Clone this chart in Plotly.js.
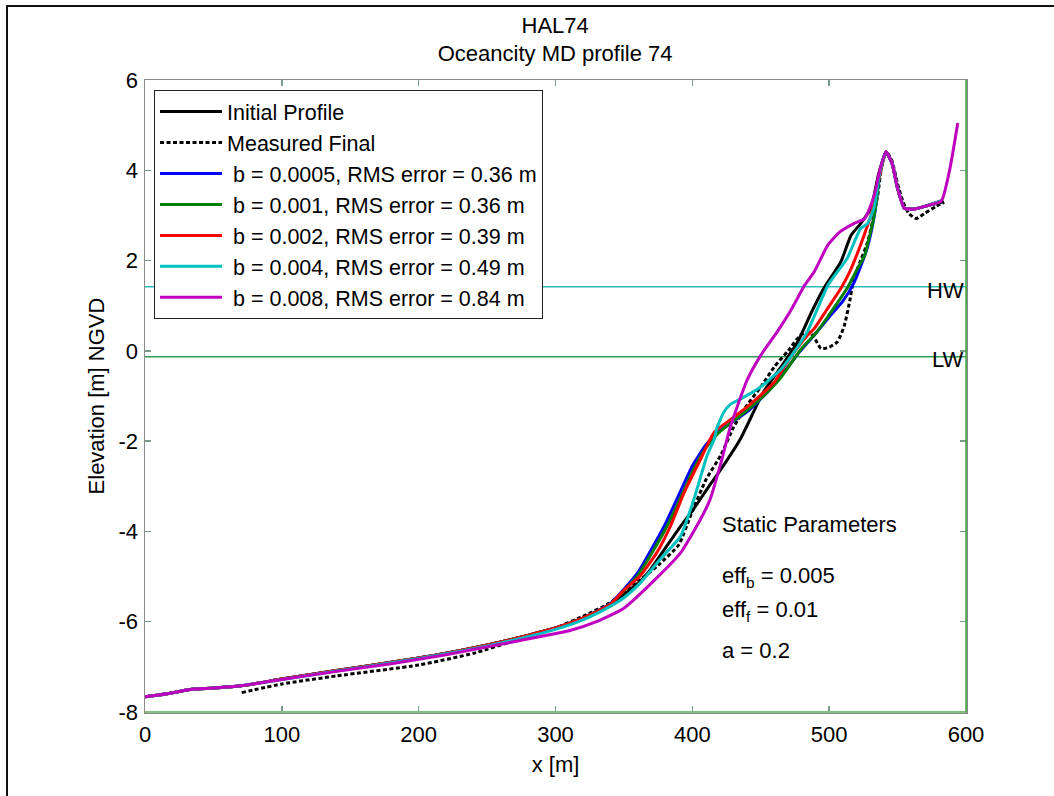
<!DOCTYPE html>
<html>
<head>
<meta charset="utf-8">
<script src="https://cdn.plot.ly/plotly-3.0.1.min.js"></script>
<style>
  html, body { margin: 0; padding: 0; background: #fff; overflow: hidden; }
  #chart { width: 1054px; height: 796px; }
  #frame { position: absolute; left: 6px; top: 5px; width: 1200px; height: 900px;
           border-left: 2px solid #111; border-top: 2px solid #111; pointer-events: none; }
</style>
</head>
<body>
<div id="chart"></div>
<div id="frame"></div>
<script>
// Profile HAL74, Ocean City MD: cross-shore distance x [m] vs elevation [m NGVD]

const initialX = [0, 15, 33, 50, 70, 100, 140, 180, 220, 260, 300, 320, 340, 362, 369.5, 380, 391.5, 401, 411, 421, 435, 452, 465, 477, 487, 496, 508.5, 516, 523, 530.5, 536, 541.5, 546, 550, 555, 562, 572, 584];
const initialY = [-7.66, -7.6, -7.5, -7.47, -7.42, -7.27, -7.08, -6.9, -6.7, -6.45, -6.14, -5.92, -5.62, -5.1, -4.84, -4.38, -3.88, -3.5, -3.05, -2.62, -1.96, -0.91, -0.35, 0.2, 0.85, 1.38, 1.97, 2.56, 2.82, 3.16, 3.9, 4.41, 4.15, 3.6, 3.16, 3.14, 3.22, 3.3];

const measuredX = [70.7, 100, 140, 200, 240, 270, 300, 320, 340, 362, 375, 390, 400, 410, 421, 430, 440, 450, 460, 470, 479, 485, 489, 494, 500, 506, 511, 515, 518, 523, 528, 532, 535.5, 539, 542, 546, 550, 554, 558, 563.5, 570, 578, 584];
const measuredY = [-7.57, -7.38, -7.2, -6.96, -6.7, -6.42, -6.14, -5.88, -5.58, -5.07, -4.75, -4.3, -3.55, -2.85, -2.3, -1.7, -1.2, -0.8, -0.35, 0.0, 0.35, 0.42, 0.3, 0.05, 0.08, 0.2, 0.55, 1.1, 1.6, 2.0, 2.4, 2.9, 3.45, 4.2, 4.4, 4.2, 3.7, 3.3, 3.05, 2.93, 3.05, 3.2, 3.29];

const b0005X = [0, 15, 33, 50, 70, 100, 140, 180, 220, 260, 300, 320, 340, 360, 370, 380, 390, 400, 410, 418, 428, 440, 455, 465, 479, 490, 500, 510, 518, 524, 528, 533, 537, 541.5, 546, 550, 555, 562, 572, 582];
const b0005Y = [-7.66, -7.6, -7.5, -7.47, -7.42, -7.27, -7.08, -6.9, -6.7, -6.45, -6.14, -5.92, -5.6, -4.92, -4.4, -3.85, -3.2, -2.55, -2.08, -1.82, -1.6, -1.35, -0.91, -0.55, 0.0, 0.38, 0.75, 1.1, 1.5, 1.95, 2.3, 3.0, 3.9, 4.41, 4.15, 3.6, 3.16, 3.14, 3.22, 3.32];

const b001X = [0, 15, 33, 50, 70, 100, 140, 180, 220, 260, 300, 320, 340, 360, 370, 380, 390, 400, 410, 418, 428, 440, 455, 465, 479, 491, 500, 513, 520, 526, 530, 533, 537, 541.5, 546, 550, 555, 562, 572, 582];
const b001Y = [-7.66, -7.6, -7.5, -7.47, -7.42, -7.27, -7.08, -6.9, -6.7, -6.45, -6.14, -5.92, -5.61, -4.98, -4.5, -3.97, -3.35, -2.68, -2.15, -1.85, -1.6, -1.32, -0.91, -0.58, 0.02, 0.42, 0.8, 1.38, 1.78, 2.12, 2.6, 3.0, 3.9, 4.41, 4.15, 3.6, 3.16, 3.14, 3.22, 3.32];

const b002X = [0, 15, 33, 50, 70, 100, 140, 180, 220, 260, 300, 320, 340, 350, 362, 374, 384, 394, 406, 416, 428, 440, 460, 470, 484, 489, 498, 508.5, 515, 521, 526, 530.5, 537, 541.5, 546, 550, 555, 562, 572, 582];
const b002Y = [-7.66, -7.6, -7.5, -7.47, -7.42, -7.27, -7.08, -6.9, -6.7, -6.45, -6.14, -5.92, -5.62, -5.3, -4.98, -4.47, -3.88, -3.14, -2.4, -1.8, -1.52, -1.24, -0.69, -0.22, 0.34, 0.49, 0.9, 1.38, 1.75, 2.19, 2.6, 3.0, 3.9, 4.41, 4.15, 3.6, 3.16, 3.14, 3.22, 3.32];

const b004X = [0, 15, 33, 50, 70, 100, 140, 180, 220, 260, 300, 320, 340, 350, 362, 377, 391.5, 401, 411, 416, 418, 423, 428, 435, 450, 457, 465, 475, 484, 499, 506, 513, 523, 528, 533, 537, 541.5, 546, 550, 555, 562, 572, 582];
const b004Y = [-7.66, -7.6, -7.5, -7.47, -7.42, -7.28, -7.09, -6.91, -6.71, -6.47, -6.17, -5.96, -5.66, -5.47, -5.14, -4.6, -4.1, -3.3, -2.3, -1.96, -1.7, -1.36, -1.18, -1.07, -0.8, -0.62, -0.4, 0.0, 0.42, 1.45, 1.75, 2.04, 2.71, 2.82, 3.2, 3.95, 4.41, 4.15, 3.6, 3.16, 3.14, 3.22, 3.32];

const b008X = [0, 15, 33, 50, 70, 100, 140, 180, 220, 260, 290, 310, 330, 350, 374, 391.5, 406, 413, 421, 428, 440, 450, 462, 472, 482, 489, 499, 508, 518, 526, 533, 537, 541.5, 546, 550, 555, 562, 572, 582, 588, 594];
const b008Y = [-7.66, -7.6, -7.5, -7.47, -7.42, -7.28, -7.1, -6.93, -6.73, -6.5, -6.32, -6.2, -6.0, -5.7, -5.03, -4.47, -3.73, -3.29, -2.47, -1.66, -0.65, -0.1, 0.42, 0.9, 1.45, 1.75, 2.34, 2.64, 2.82, 2.93, 3.45, 4.0, 4.41, 4.15, 3.6, 3.16, 3.14, 3.22, 3.32, 4.0, 5.05];

const seriesNames = [
  'Initial Profile',
  'Measured Final',
  ' b = 0.0005, RMS error = 0.36 m',
  ' b = 0.001, RMS error = 0.36 m',
  ' b = 0.002, RMS error = 0.39 m',
  ' b = 0.004, RMS error = 0.49 m',
  ' b = 0.008, RMS error = 0.84 m'
];

// Still-water reference levels
const highWater = 1.42;
const lowWater = -0.13;

const xTickVals = [0, 100, 200, 300, 400, 500, 600];
const xTickText = ['0', '100', '200', '300', '400', '500', '600'];
const yTickVals = [-8, -6, -4, -2, 0, 2, 4, 6];
const yTickText = ['-8', '-6', '-4', '-2', '0', '2', '4', '6'];

const FONT = 'Liberation Sans, Arial, Helvetica, sans-serif';
const textFont = { family: FONT, size: 22, color: '#000' };

function profile(x, y, name, color, dash) {
  return {
    type: 'scatter', mode: 'lines', x: x, y: y, name: name,
    line: { color: color, width: 3, dash: dash || 'solid', shape: 'spline', smoothing: 0.5 },
    hoverinfo: 'skip'
  };
}

const traces = [
  profile(initialX, initialY, seriesNames[0], '#000000'),
  profile(measuredX, measuredY, seriesNames[1], '#000000', '4px,2.5px'),
  profile(b0005X, b0005Y, seriesNames[2], '#0000ff'),
  profile(b001X, b001Y, seriesNames[3], '#008000'),
  profile(b002X, b002Y, seriesNames[4], '#ff0000'),
  profile(b004X, b004Y, seriesNames[5], '#00bfbf'),
  profile(b008X, b008Y, seriesNames[6], '#bf00bf')
];

const axisCommon = {
  showgrid: false, zeroline: false,
  showline: true, linecolor: '#8a8a8a', linewidth: 1.5, mirror: 'ticks',
  ticks: 'inside', ticklen: 6, tickwidth: 1.5, tickcolor: '#7a9a8a',
  tickfont: textFont
};

const layout = {
  width: 1054, height: 796,
  margin: { l: 145, r: 88, t: 80, b: 84 },
  paper_bgcolor: '#ffffff', plot_bgcolor: '#ffffff',
  font: textFont,
  showlegend: true,
  title: {
    text: 'HAL74<br>Oceancity MD profile 74',
    font: textFont,
    x: 0.5267, xanchor: 'center', y: 0.959, yanchor: 'top'
  },
  xaxis: Object.assign({}, axisCommon, {
    range: [0, 600], tickmode: 'array', tickvals: xTickVals, ticktext: xTickText,
    ticklabelstandoff: 2,
    title: { text: 'x [m]', font: textFont, standoff: 10 }
  }),
  yaxis: Object.assign({}, axisCommon, {
    range: [-8, 6], tickmode: 'array', tickvals: yTickVals, ticktext: yTickText,
    ticklabelstandoff: 1,
    title: { text: 'Elevation [m] NGVD', font: textFont, standoff: 8 }
  }),
  legend: {
    x: 0.011, y: 0.984, xanchor: 'left', yanchor: 'top',
    bgcolor: '#ffffff', bordercolor: '#222', borderwidth: 1,
    font: { family: FONT, size: 21.5, color: '#000' },
    itemwidth: 62, traceorder: 'normal'
  },
  shapes: [
    { type: 'line', xref: 'paper', x0: 0, x1: 1, yref: 'y', y0: highWater, y1: highWater,
      line: { color: '#2cbcbc', width: 1.5 }, layer: 'below' },
    { type: 'line', xref: 'paper', x0: 0, x1: 1, yref: 'y', y0: lowWater, y1: lowWater,
      line: { color: '#2e9e50', width: 1.5 }, layer: 'below' },
    // lower and right edges of the axes box
    { type: 'line', xref: 'paper', yref: 'paper', x0: 0, x1: 1, y0: 0, y1: 0,
      line: { color: '#80c080', width: 2 } },
    { type: 'line', xref: 'paper', yref: 'paper', x0: 1, x1: 1, y0: 0, y1: 1,
      line: { color: '#3cb040', width: 1.5 } }
  ],
  annotations: [
    { xref: 'paper', x: 1, xanchor: 'right', yref: 'y', y: highWater, yanchor: 'middle', yshift: -4,
      text: 'HW', showarrow: false, font: textFont },
    { xref: 'paper', x: 1, xanchor: 'right', yref: 'y', y: lowWater, yanchor: 'middle', yshift: -3,
      text: 'LW', showarrow: false, font: textFont },
    { xref: 'x', x: 420, xanchor: 'left', yref: 'y', y: -3.84, yanchor: 'middle',
      text: 'Static Parameters', showarrow: false, font: textFont },
    { xref: 'x', x: 420, xanchor: 'left', yref: 'y', y: -5.02, yanchor: 'middle',
      text: 'eff<sub>b</sub> = 0.005', showarrow: false, font: textFont },
    { xref: 'x', x: 420, xanchor: 'left', yref: 'y', y: -5.76, yanchor: 'middle',
      text: 'eff<sub>f</sub> = 0.01', showarrow: false, font: textFont },
    { xref: 'x', x: 420, xanchor: 'left', yref: 'y', y: -6.64, yanchor: 'middle',
      text: 'a = 0.2', showarrow: false, font: textFont }
  ]
};

Plotly.newPlot('chart', traces, layout, { displayModeBar: false, staticPlot: true });
</script>
</body>
</html>
